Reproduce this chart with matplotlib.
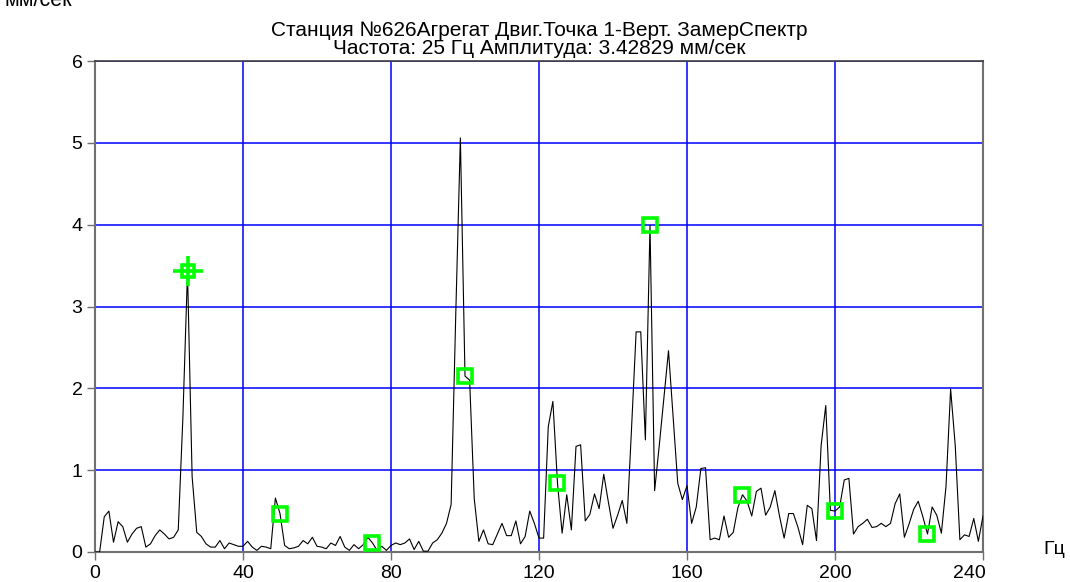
import numpy as np
import matplotlib
matplotlib.use("Agg")
import matplotlib.pyplot as plt
import matplotlib.transforms as mtransforms

plt.rcParams['font.family'] = ['Liberation Sans', 'DejaVu Sans']

# ---- data -------------------------------------------------------------
freq_step = 1.25  # Hz between spectrum lines
amplitude = [
    0.00, 0.00, 0.43, 0.50, 0.12, 0.37, 0.31, 0.12, 0.22, 0.29,
    0.31, 0.06, 0.10, 0.20, 0.27, 0.22, 0.16, 0.18, 0.27, 1.64,
    3.43, 0.92, 0.24, 0.19, 0.10, 0.06, 0.06, 0.14, 0.04, 0.11,
    0.09, 0.07, 0.07, 0.13, 0.06, 0.02, 0.07, 0.06, 0.04, 0.66,
    0.47, 0.08, 0.04, 0.05, 0.07, 0.14, 0.10, 0.18, 0.07, 0.06,
    0.04, 0.11, 0.08, 0.19, 0.06, 0.02, 0.09, 0.04, 0.09, 0.18,
    0.11, 0.02, 0.07, 0.02, 0.08, 0.11, 0.09, 0.11, 0.16, 0.03,
    0.13, 0.01, 0.01, 0.11, 0.15, 0.23, 0.35, 0.58, 2.90, 5.06,
    2.15, 2.10, 0.65, 0.13, 0.27, 0.10, 0.09, 0.22, 0.35, 0.20,
    0.20, 0.38, 0.10, 0.19, 0.50, 0.35, 0.17, 0.17, 1.53, 1.84,
    0.84, 0.23, 0.70, 0.27, 1.29, 1.31, 0.38, 0.46, 0.71, 0.53,
    0.95, 0.61, 0.29, 0.45, 0.63, 0.35, 1.50, 2.69, 2.69, 1.37,
    3.99, 0.75, 1.30, 1.88, 2.46, 1.65, 0.84, 0.64, 0.81, 0.35,
    0.55, 1.02, 1.03, 0.15, 0.17, 0.15, 0.44, 0.18, 0.24, 0.54,
    0.70, 0.62, 0.44, 0.74, 0.78, 0.45, 0.55, 0.75, 0.44, 0.17,
    0.47, 0.47, 0.30, 0.09, 0.57, 0.53, 0.14, 1.30, 1.79, 0.51,
    0.50, 0.55, 0.88, 0.90, 0.22, 0.31, 0.35, 0.40, 0.30, 0.31,
    0.35, 0.31, 0.35, 0.59, 0.71, 0.18, 0.34, 0.52, 0.62, 0.43,
    0.22, 0.55, 0.45, 0.23, 0.80, 1.99, 1.30, 0.15, 0.21, 0.19,
    0.41, 0.13, 0.44,
]
cursor_freq = 25
harmonic_freqs = [50, 75, 100, 125, 150, 175, 200, 225]
x_ticks = [0, 40, 80, 120, 160, 200, 240]
y_ticks = [0, 1, 2, 3, 4, 5, 6]
title_lines = ["Станция №626Агрегат Двиг.Точка 1-Верт. ЗамерСпектр",
               "Частота: 25 Гц Амплитуда: 3.42829 мм/сек"]
y_unit = "мм/сек"
x_unit = "Гц"

# ---- plot -------------------------------------------------------------
amp = np.array(amplitude)
freqs = np.arange(len(amp)) * freq_step

W, H = 1070, 582
fig = plt.figure(figsize=(W / 100, H / 100), dpi=100)
L, R, T, B = 95, 983, 61, 552
ax = fig.add_axes([L / W, (H - B) / H, (R - L) / W, (B - T) / H])

ax.set_xlim(0, 240)
ax.set_ylim(0, 6)
ax.set_xticks(x_ticks)
ax.set_yticks(y_ticks)
ax.grid(True, color='#0000ff', linewidth=1.1)
ax.set_axisbelow(True)

ax.plot(freqs, amp, color='black', linewidth=0.8, zorder=3)

idx_h = [int(round(f / freq_step)) for f in harmonic_freqs]
ax.plot(np.array(harmonic_freqs), amp[idx_h], linestyle='none', marker='s',
        markersize=10.5, markerfacecolor='none', markeredgecolor='#00ff00',
        markeredgewidth=2.6, zorder=4, clip_on=False)

ic = int(round(cursor_freq / freq_step))
ax.plot([cursor_freq], [amp[ic]], linestyle='none', marker='s', markersize=9,
        markerfacecolor='none', markeredgecolor='#00ff00',
        markeredgewidth=2.6, zorder=5)
ax.plot([cursor_freq], [amp[ic]], linestyle='none', marker='+', markersize=22,
        markeredgecolor='#00ff00', markeredgewidth=2.6, zorder=5)

for side in ['left', 'bottom', 'right']:
    ax.spines[side].set_color('#707070')
    ax.spines[side].set_linewidth(1.5)
ax.spines['top'].set_color('#404040')
ax.spines['top'].set_linewidth(1.2)

ax.tick_params(axis='both', direction='out', length=6, width=1,
               color='#707070', labelsize=14, pad=3)

# last x tick label sits slightly left of its tick, as in the reference
last_lbl = ax.get_xticklabels()[-1]
last_lbl.set_transform(last_lbl.get_transform() +
                       mtransforms.ScaledTranslation(-14 / 100, 0, fig.dpi_scale_trans))

fig.text(539 / W, 1 - 30 / H, title_lines[0], ha='center', va='center',
         fontsize=15)
fig.text(539 / W, 1 - 48 / H, title_lines[1], ha='center', va='center',
         fontsize=15)

fig.text(4 / W, 1 - 6 / H, y_unit, ha='left', va='baseline', fontsize=15.5)
fig.text(1054 / W, 1 - 549 / H, x_unit, ha='center', va='center',
         fontsize=14)

fig.savefig('out.png', dpi=100)
